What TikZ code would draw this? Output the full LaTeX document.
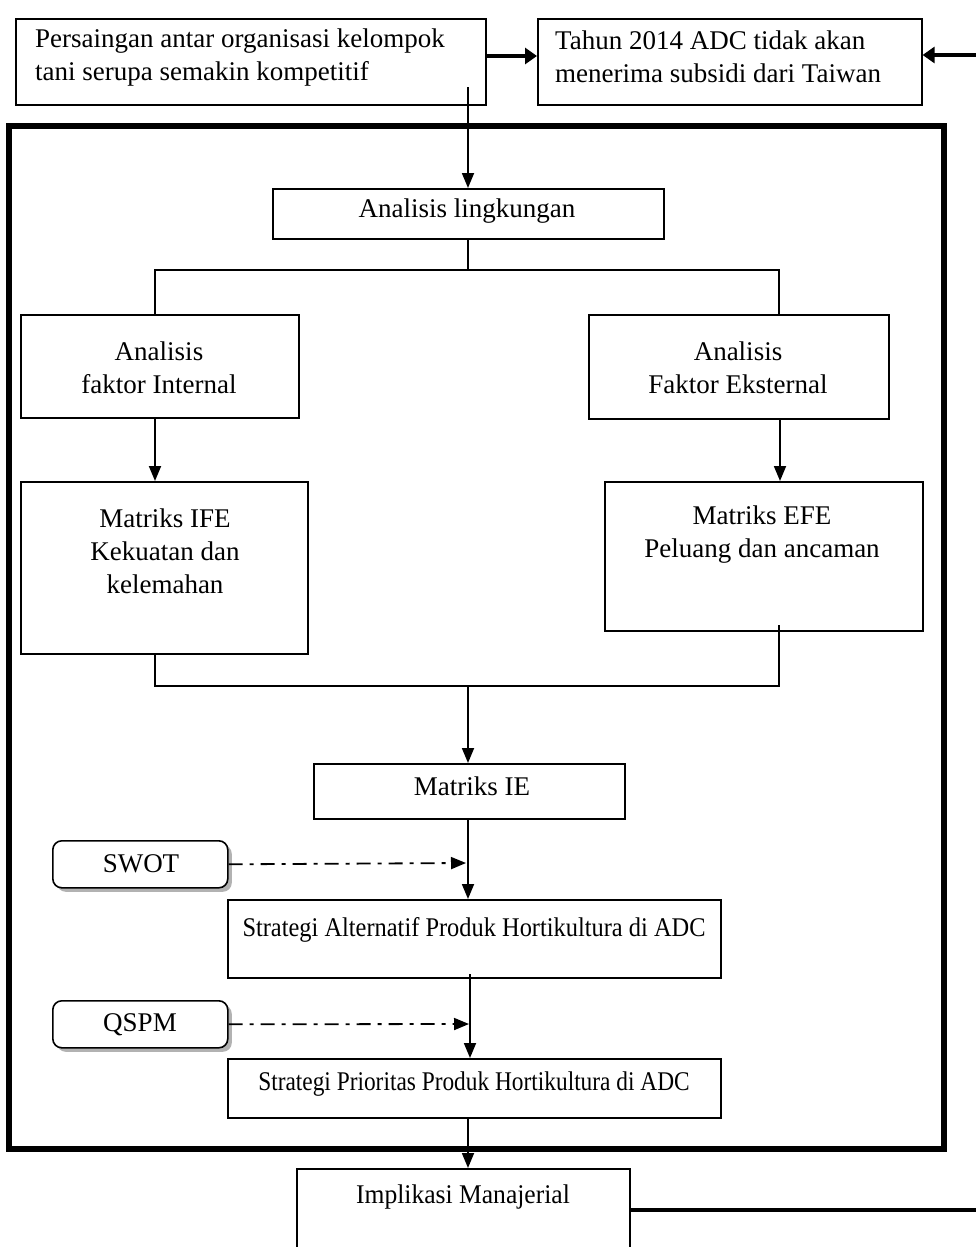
\documentclass[tikz,border=0pt]{standalone}
\usepackage{fontspec}
\setmainfont{Liberation Serif}
\usetikzlibrary{arrows.meta,shadows}
\begin{document}
\begin{tikzpicture}[x=1pt,y=-1pt,
  box/.style={draw,line width=1.6pt,fill=white,anchor=north west,inner sep=0pt,
    drop shadow={shadow xshift=1.5pt,shadow yshift=-1.5pt,fill=gray!70,opacity=1}},
  rbox/.style={draw,line width=1.6pt,fill=white,anchor=north west,inner sep=0pt,rounded corners=9pt,
    drop shadow={shadow xshift=4pt,shadow yshift=-4pt,fill=gray!60,opacity=1}},
  txt/.style={font=\fontsize{27}{33}\selectfont,inner sep=0pt},
  conn/.style={line width=1.8pt},
  arr/.style={line width=1.8pt,-{Triangle[length=15pt,width=12pt]}},
  thickarr/.style={line width=3.5pt,-{Triangle[length=12pt,width=16pt]}},
  dasharr/.style={line width=1.8pt,dash pattern=on 14pt off 7pt on 4pt off 7pt,-{Triangle[length=15pt,width=12pt]}},
  frame/.style={draw,line width=6pt}]
\useasboundingbox (0,0) rectangle (976,1247);
% outer frame
\draw[frame] (9,126) rectangle (944,1149);
% top boxes
\node[box,minimum width=470pt,minimum height=86pt] (p) at (15,18) {};
\node[txt,anchor=west,align=left] (pt) at (35,58) {Persaingan antar organisasi kelompok\\tani serupa semakin kompetitif};
\node[box,minimum width=384pt,minimum height=86pt] (t) at (537,18) {};
\node[txt,anchor=west,align=left] (tt) at (555,57) {Tahun 2014 ADC tidak akan\\menerima subsidi dari Taiwan};
% main boxes
\node[box,minimum width=391pt,minimum height=50pt] (al) at (272,188) {};
\node[txt] (alt) at (467,211) {Analisis lingkungan};
\node[box,minimum width=278pt,minimum height=103pt] (ai) at (20,314) {};
\node[txt,align=center] (ait) at (159,368) {Analisis\\faktor Internal};
\node[box,minimum width=300pt,minimum height=104pt] (ae) at (588,314) {};
\node[txt,align=center] (aet) at (738,368) {Analisis\\Faktor Eksternal};
\node[box,minimum width=287pt,minimum height=172pt] (ife) at (20,481) {};
\node[txt,align=center] (ifet) at (165,551) {Matriks IFE\\Kekuatan dan\\kelemahan};
\node[box,minimum width=318pt,minimum height=149pt] (efe) at (604,481) {};
\node[txt,align=center] (efet) at (762,535) {Matriks EFE\\Peluang dan ancaman};
\node[box,minimum width=311pt,minimum height=55pt] (ie) at (313,763) {};
\node[txt] (iet) at (472,786) {Matriks IE};
\node[rbox,minimum width=175pt,minimum height=47pt] (swot) at (52,840) {};
\node[txt] (swott) at (141,864) {SWOT};
\node[box,minimum width=493pt,minimum height=78pt] (sa) at (227,899) {};
\node[txt] (sat) at (474,930) {\scalebox{0.904}[1]{Strategi Alternatif Produk Hortikultura di ADC}};
\node[rbox,minimum width=175pt,minimum height=47pt] (qspm) at (52,1000) {};
\node[txt] (qspmt) at (140,1025) {QSPM};
\node[box,minimum width=493pt,minimum height=59pt] (sp) at (227,1058) {};
\node[txt] (spt) at (474,1084) {\scalebox{0.865}[1]{Strategi Prioritas Produk Hortikultura di ADC}};
\node[box,minimum width=333pt,minimum height=100pt] (im) at (296,1168) {};
\node[txt] (imt) at (463,1197) {\scalebox{0.947}[1]{Implikasi Manajerial}};
% coordinates
\coordinate (pin) at (468,87);
\coordinate (efein) at (779,625);
\coordinate (sain) at (470,974);
\coordinate (edge) at (976,55);
\coordinate (edgeb) at (976,1210);
% connectors
\draw[thickarr] (p.east |- 0,56) -- (t.west |- 0,56);
\draw[thickarr] (edge) -- (t.east |- edge);
\draw[arr] (pin) -- (al.north -| pin);
\draw[conn] (al.south -| pin) -- (468,270);
\draw[conn] (ai.north -| 155,0) -- (155,270) -- (779,270) -- (ae.north -| 779,0);
\draw[arr] (ai.south -| 155,0) -- (ife.north -| 155,0);
\draw[arr] (ae.south -| 780,0) -- (efe.north -| 780,0);
\draw[conn] (ife.south -| 155,0) -- (155,686) -- (779,686) -- (efein);
\draw[arr] (468,686) -- (ie.north -| 468,0);
\draw[arr] (ie.south -| 468,0) -- (sa.north -| 468,0);
\draw[dasharr] (swot.east) -- (466,863);
\draw[arr] (sain) -- (sp.north -| sain);
\draw[dasharr] (qspm.east) -- (469,1024);
\draw[arr] (sp.south -| 468,0) -- (im.north -| 468,0);
\draw[line width=3.5pt] (im.east |- edgeb) -- (edgeb);
\end{tikzpicture}
\end{document}
